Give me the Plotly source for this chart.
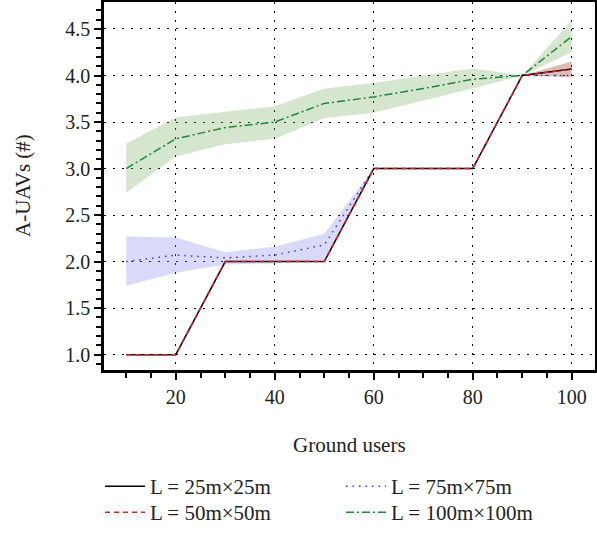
import plotly.graph_objects as go

users = [10, 20, 30, 40, 50, 60, 70, 80, 90, 100]

l25_mean = [1.0, 1.0, 2.0, 2.0, 2.0, 3.0, 3.0, 3.0, 4.0, 4.07]
l50_mean = [1.0, 1.0, 2.0, 2.0, 2.0, 3.0, 3.0, 3.0, 4.0, 4.07]
l50_upper = [1.0, 1.0, 2.0, 2.0, 2.0, 3.0, 3.0, 3.0, 4.0, 4.15]
l50_lower = [1.0, 1.0, 2.0, 2.0, 2.0, 3.0, 3.0, 3.0, 4.0, 3.98]
l75_mean = [2.0, 2.07, 2.04, 2.07, 2.18, 3.0, 3.0, 3.0, 4.0, 4.0]
l75_upper = [2.27, 2.26, 2.10, 2.16, 2.30, 3.0, 3.0, 3.0, 4.0, 4.0]
l75_lower = [1.74, 1.88, 1.97, 1.98, 2.02, 3.0, 3.0, 3.0, 4.0, 4.0]
l100_mean = [3.0, 3.32, 3.44, 3.50, 3.70, 3.77, 3.86, 3.96, 4.0, 4.42]
l100_upper = [3.27, 3.55, 3.61, 3.67, 3.86, 3.92, 4.0, 4.075, 4.0, 4.59]
l100_lower = [2.74, 3.13, 3.26, 3.32, 3.54, 3.60, 3.73, 3.86, 4.0, 4.25]

y_ticks = [1.0, 1.5, 2.0, 2.5, 3.0, 3.5, 4.0, 4.5]
x_ticks = [20, 40, 60, 80, 100]

FONT = "Liberation Serif"
TXT = "#222"
X_RANGE = [5.5, 104.7]
Y_RANGE = [0.835, 4.79]
fig = go.Figure()


def band(upper, lower, color):
    fig.add_trace(go.Scatter(
        x=users + users[::-1], y=upper + lower[::-1],
        fill="toself", fillcolor=color, line=dict(width=0),
        mode="lines", showlegend=False, hoverinfo="skip"))


band(l100_upper, l100_lower, "rgba(120,170,90,0.30)")
band(l75_upper, l75_lower, "rgba(130,130,240,0.30)")
band(l50_upper, l50_lower, "rgba(170,90,70,0.40)")

# mean lines live on the overlay axes (which carry the minor ticks)
fig.add_trace(go.Scatter(x=users, y=l75_mean, mode="lines", name="L = 75m×75m",
                         line=dict(color="#3a3acc", width=1.5, dash="1.5px,5px"),
                         legend="legend3", xaxis="x2", yaxis="y2"))
fig.add_trace(go.Scatter(x=users, y=l100_mean, mode="lines", name="L = 100m×100m",
                         line=dict(color="#1a8a3a", width=1.5, dash="8px,3px,2px,3px"),
                         legend="legend4", xaxis="x2", yaxis="y2"))
fig.add_trace(go.Scatter(x=users, y=l25_mean, mode="lines", name="L = 25m×25m",
                         line=dict(color="black", width=1.5), legend="legend",
                         xaxis="x2", yaxis="y2"))
fig.add_trace(go.Scatter(x=users, y=l50_mean, mode="lines", name="L = 50m×50m",
                         line=dict(color="#e02020", width=1.5, dash="5px,4px"),
                         legend="legend2", xaxis="x2", yaxis="y2"))

axis_common = dict(
    showline=True, linecolor="black", linewidth=2.5, mirror=True,
    ticks="outside", ticklen=7, tickwidth=1.5, tickcolor="black",
    showgrid=True, gridcolor="black", gridwidth=1, griddash="2px,7px",
    zeroline=False, tickfont=dict(family=FONT, size=20, color=TXT),
    automargin=False, tickmode="linear",
)
minor_common = dict(
    tickmode="linear", ticks="outside", ticklen=7, tickwidth=1.5, tickcolor="black",
    showgrid=False, showline=False, zeroline=False, showticklabels=False, automargin=False,
)

fig.update_layout(
    xaxis=dict(range=X_RANGE, tick0=x_ticks[0], dtick=x_ticks[1] - x_ticks[0], tickangle=0,
               **axis_common),
    yaxis=dict(range=Y_RANGE, tick0=y_ticks[0], dtick=y_ticks[1] - y_ticks[0], tickformat=".1f",
               **axis_common),
    xaxis2=dict(overlaying="x", side="bottom", anchor="y2", range=X_RANGE, tick0=0, dtick=5,
                **minor_common),
    yaxis2=dict(overlaying="y", side="left", anchor="x2", range=Y_RANGE, tick0=0, dtick=0.1,
                **minor_common),
)

fig.add_annotation(text="Ground users", xref="paper", yref="paper", x=0.5, y=-75 / 368,
                   xanchor="center", yanchor="middle", showarrow=False,
                   font=dict(family=FONT, size=21, color=TXT))
fig.add_annotation(text="A-UAVs (#)", xref="paper", yref="paper", x=-81 / 491, y=0.5,
                   xanchor="center", yanchor="middle", showarrow=False, textangle=-90,
                   font=dict(family=FONT, size=21, color=TXT))

leg_common = dict(xref="container", yref="container", xanchor="left", yanchor="top",
                  orientation="v", font=dict(family=FONT, size=21, color=TXT),
                  bgcolor="rgba(0,0,0,0)", tracegroupgap=0, itemwidth=40)
row1 = 1 - 466 / 542
row2 = 1 - 492 / 542
fig.update_layout(
    width=597, height=542,
    margin=dict(l=104, r=2, t=2, b=172, autoexpand=False),
    paper_bgcolor="white", plot_bgcolor="white",
    legend=dict(x=100 / 597, y=row1, **leg_common),
    legend2=dict(x=100 / 597, y=row2, **leg_common),
    legend3=dict(x=341 / 597, y=row1, **leg_common),
    legend4=dict(x=341 / 597, y=row2, **leg_common),
)

fig.write_html("out.html")
